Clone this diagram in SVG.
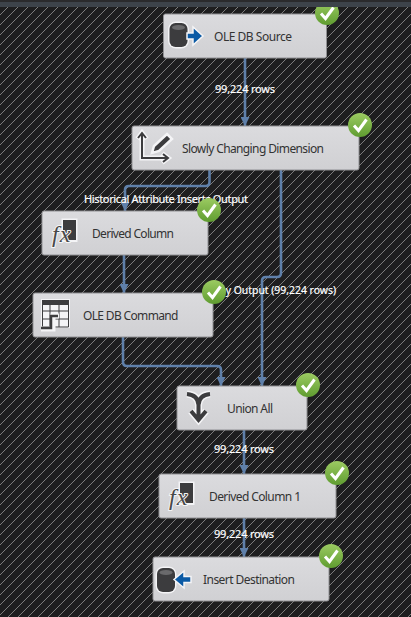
<svg xmlns="http://www.w3.org/2000/svg" width="411" height="617" viewBox="0 0 411 617">
<style>
.n{fill:url(#ng);stroke:#8f8f92;stroke-width:1}
.t{font:12px "Noto Sans","Open Sans",sans-serif;fill:#333}
.l{font:11px "Noto Sans","Open Sans",sans-serif;fill:#fff;stroke:#fff;stroke-width:.2}
.c{fill:none;stroke:#5f80aa;stroke-width:2.600;marker-end:url(#a)}
.h{fill:#f4f4f6}
.d{fill:#3c3c3e}
.fx{font:italic 24px "Liberation Serif",serif;fill:#48484a;stroke:#f4f4f6;stroke-width:2;paint-order:stroke;letter-spacing:1px}
</style>
<defs>
<linearGradient id="ng" x1="0" y1="0" x2="0" y2="1"><stop offset="0" stop-color="#dbdbde"/><stop offset="1" stop-color="#d0d0d3"/></linearGradient>
<linearGradient id="cg" x1="0" y1="0" x2="0" y2="1"><stop offset="0" stop-color="#9ccb62"/><stop offset="1" stop-color="#5f9c30"/></linearGradient>
<pattern id="hatch" width="10" height="10" patternUnits="userSpaceOnUse" patternTransform="translate(5 0)">
<path d="M-2 2L2 -2M0 10L10 0M8 12L12 8" stroke="#7c7c7c" stroke-width="1" fill="none" shape-rendering="crispEdges"/>
</pattern>
<marker id="a" markerUnits="userSpaceOnUse" markerWidth="10" markerHeight="9" refX="9" refY="4.500" orient="auto"><path d="M0 0L9 4.500L0 9Z" fill="#5f80aa"/></marker>
<g id="chk"><circle r="12" fill="url(#cg)"/><path d="M-6 0.500L-1.500 5.500L6.500 -5.500" fill="none" stroke="#fff" stroke-width="3"/></g>
<g id="cyl"><rect x="-1.500" y="-1.500" width="21" height="27" rx="8" class="h"/><rect x="0" y="0" width="18" height="24" rx="6" class="d"/><ellipse cx="9" cy="4.500" rx="6.500" ry="2.400" fill="#6a6a6c"/></g>
<g id="fxi"><rect x="-1.500" y="-1.500" width="16" height="23.500" class="h"/><rect x="0" y="0" width="13" height="20" class="d"/><text x="-11" y="22" class="fx">fx</text></g>
</defs>
<rect width="411" height="617" fill="#1e1e1f"/>
<rect width="411" height="617" fill="url(#hatch)"/>
<g id="connectors">
<path class="c" d="M245 58V126"/>
<path class="c" d="M209.500 170V182Q209.500 186 205.500 186H129Q125 186 125 190V211"/>
<path class="c" d="M124 255V293"/>
<path class="c" d="M281 170V273Q281 277 277 277H266Q262 277 262 281V386"/>
<path class="c" d="M123 337V362Q123 366 127 366H217Q221 366 221 370V386"/>
<path class="c" d="M244 430V474"/>
<path class="c" d="M244 518V557"/>
</g>
<g id="labels">
<text class="l" x="215" y="93" textLength="60">99,224 rows</text>
<text class="l" x="84" y="203" textLength="164">Historical Attribute Inserts Output</text>
<text class="l" x="336" y="294" text-anchor="end" font-size="10.400" style="font-size:10.4px">y Output (99,224 rows)</text>
<text class="l" x="214" y="453" textLength="60">99,224 rows</text>
<text class="l" x="214" y="538" textLength="60">99,224 rows</text>
</g>
<g id="ole-db-source">
<rect class="n" x="163.500" y="14" width="163" height="44" rx="2"/>
<use href="#cyl" x="169.500" y="23"/>
<path d="M187 33H193V27L203 36L193 45V39H187Z" fill="#0b5aa5" stroke="#f4f4f6" stroke-width="1.500"/>
<text class="t" x="214" y="41" textLength="78">OLE DB Source</text>
<use href="#chk" x="327" y="13"/>
</g>
<g id="slowly-changing-dimension">
<rect class="n" x="132" y="126" width="227" height="44" rx="2"/>
<path d="M142 134V158H167M137.500 139L142 133L146.500 139M162 153.500L168 158L162 162.500" fill="none" stroke="#f4f4f6" stroke-width="5"/>
<path d="M142 134V158H167M138 138L142 133L146 138M163 154L168 158L163 162" fill="none" stroke="#3c3c3e" stroke-width="2"/>
<path d="M167 134L172 139L159 151L152 153L154 146Z" fill="#3c3c3e" stroke="#f4f4f6" stroke-width="2.500"/>
<text class="t" x="182" y="153" textLength="142">Slowly Changing Dimension</text>
<use href="#chk" x="360" y="125"/>
</g>
<g id="derived-column">
<rect class="n" x="42" y="211" width="166" height="44" rx="2"/>
<use href="#fxi" x="63" y="220"/>
<text class="t" x="92" y="238" textLength="82">Derived Column</text>
<use href="#chk" x="209" y="210"/>
</g>
<g id="ole-db-command">
<rect class="n" x="33" y="293" width="180" height="44" rx="2"/>
<rect x="41" y="299" width="29" height="29" class="h"/>
<path d="M42.500 301H68.500V327H42.500Z" fill="none" stroke="#3c3c3e"/>
<rect x="42" y="300" width="27" height="5" class="d"/>
<path d="M42 311H69M42 319H69M50 305V327M59 305V327" stroke="#3c3c3e" fill="none"/>
<path d="M41 329H53V316H59" fill="none" stroke="#f4f4f6" stroke-width="5"/>
<path d="M41 328H51V316H58" fill="none" stroke="#3c3c3e" stroke-width="2.500"/>
<text class="t" x="83" y="320" textLength="95.500">OLE DB Command</text>
<use href="#chk" x="214" y="292"/>
</g>
<g id="union-all">
<rect class="n" x="177" y="386" width="130" height="44" rx="2"/>
<path d="M187 394Q198 395 198.500 405Q199 395 210 394M198.500 403V418M191 411L198.500 420L206 411" fill="none" stroke="#f4f4f6" stroke-width="7"/>
<path d="M187 394Q198 395 198.500 405Q199 395 210 394M198.500 403V418M191 411L198.500 420L206 411" fill="none" stroke="#3c3c3e" stroke-width="4"/>
<text class="t" x="227" y="413" textLength="46">Union All</text>
<use href="#chk" x="308" y="385"/>
</g>
<g id="derived-column-1">
<rect class="n" x="159" y="474" width="177" height="44" rx="2"/>
<use href="#fxi" x="180" y="483"/>
<text class="t" x="209" y="501" textLength="92">Derived Column 1</text>
<use href="#chk" x="337" y="473"/>
</g>
<g id="insert-destination">
<rect class="n" x="153" y="557" width="176" height="44" rx="2"/>
<use href="#cyl" x="157" y="568"/>
<path d="M191 576.500H184V571L174 579.500L184 588V582.500H191Z" fill="#0b5aa5" stroke="#f4f4f6" stroke-width="1.500"/>
<text class="t" x="203" y="584" textLength="92">Insert Destination</text>
<use href="#chk" x="331" y="556"/>
</g>
<rect id="top-bar-dark" width="411" height="2" fill="#2a2a2c"/>
<rect id="top-bar" y="2" width="411" height="5" fill="#3d434a"/>
</svg>
